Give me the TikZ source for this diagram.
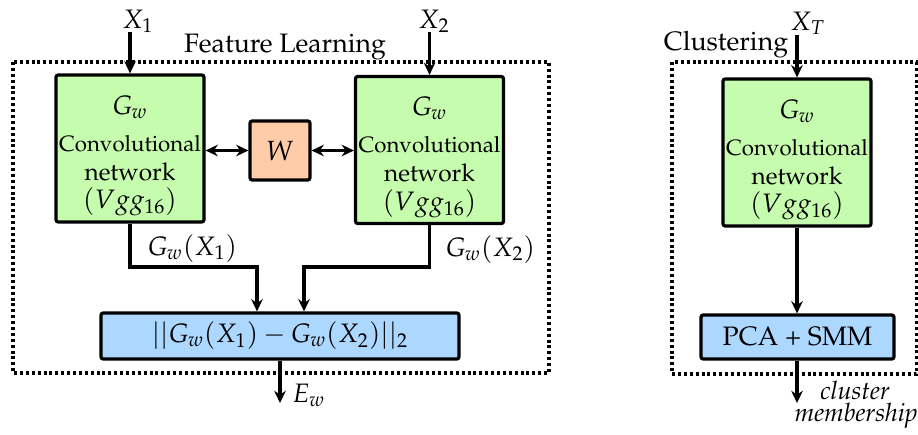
\documentclass[tikz,border=0pt]{standalone}
\usepackage[T1]{fontenc}
\usepackage{mathpazo}
\usetikzlibrary{arrows.meta,calc}
\definecolor{convgreen}{RGB}{198,252,174}
\definecolor{worange}{RGB}{255,204,170}
\definecolor{lossblue}{RGB}{172,216,255}
\begin{document}
\begin{tikzpicture}[x=0.45pt,y=-0.45pt,
  box/.style={draw,line width=1.45pt,rounded corners=1pt,inner sep=0pt},
  conv/.style={box,fill=convgreen,minimum width=66.6pt,minimum height=66.15pt},
  wbox/.style={box,fill=worange,minimum width=27pt,minimum height=26.55pt,font=\fontsize{12.5}{14}\selectfont},
  lossbox/.style={box,fill=lossblue,font=\fontsize{12}{14}\selectfont},
  convtext/.style={align=center,inner sep=0pt,font=\fontsize{12}{13}\selectfont},
  arr/.style={line width=1.4pt,-{Stealth[length=5.5pt,width=5.2pt]}},
  darr/.style={line width=1.4pt,{Stealth[length=5.5pt,width=5.2pt]}-{Stealth[length=5.5pt,width=5.2pt]}},
  frame/.style={line width=1.45pt,dash pattern=on 1.35pt off 1.3pt},
  lbl/.style={inner sep=0pt,font=\fontsize{12}{14}\selectfont},
  outlbl/.style={inner sep=0pt,font=\fontsize{11.4}{13}\selectfont\itshape}]
\useasboundingbox (0,0) rectangle (918,434);

% frames
\draw[frame] (13,62) rectangle (549,373);
\draw[frame] (672,62) rectangle (916.5,374);

% frame titles
\node[lbl,anchor=base] (tfl) at (285,52) {Feature Learning};
\node[lbl,anchor=base] (tcl) at (726,50) {Clustering};

% boxes
\node[conv] (g1) at (130,148.5) {};
\node[conv] (g2) at (429.5,150) {};
\node[conv] (gT) at (797,152.5) {};
\node[convtext] (g1t) at (130,156) {$G_w$\\[3.5pt] {\fontsize{10}{13}\selectfont Convolutional}\\ {\fontsize{11}{13}\selectfont network}\\ $(Vgg_{16})$};
\node[convtext] (g2t) at (429.5,157.5) {$G_w$\\[3.5pt] {\fontsize{10}{13}\selectfont Convolutional}\\ {\fontsize{11}{13}\selectfont network}\\ $(Vgg_{16})$};
\node[convtext] (gTt) at (797,160) {$G_w$\\[3.5pt] {\fontsize{10}{13}\selectfont Convolutional}\\ {\fontsize{11}{13}\selectfont network}\\ $(Vgg_{16})$};

\node[wbox] (w) at (280,150.5) {$W$};
\node[lossbox,minimum width=161.1pt,minimum height=20.7pt] (b1) at (280,336) {$||G_w(X_1)-G_w(X_2)||_2$};
\node[lossbox,minimum width=86.85pt,minimum height=19.8pt] (b2) at (797.5,337) {PCA + SMM};

% inputs
\coordinate (in1) at (130,32);
\coordinate (in2) at (429.5,32);
\coordinate (inT) at (797,35);
\node[lbl,anchor=base west] (x1) at (122,28) {$X_1$};
\node[lbl,anchor=base west] (x2) at (418,28) {$X_2$};
\node[lbl,anchor=base west] (xT) at (790,30) {$X_T$};
\draw[arr] (in1) -- (g1.north);
\draw[arr] (in2) -- (g2.north);
\draw[arr] (inT) -- (gT.north);

% W links
\draw[darr] (g1.east |- w.west) -- (w.west);
\draw[darr] (w.east) -- (g2.west |- w.east);

% outputs to loss
\coordinate (j1) at (257,267);
\coordinate (j2) at (304,267);
\draw[arr] (g1.south) |- (j1) -- (j1 |- b1.north);
\draw[arr] (g2.south) |- (j2) -- (j2 |- b1.north);
\node[lbl,anchor=base west] (o1) at (147,255) {$G_w(X_1)$};
\node[lbl,anchor=base west] (o2) at (445,256) {$G_w(X_2)$};

% loss output
\coordinate (ew) at (280,403);
\draw[arr] (b1.south) -- (ew);
\node[lbl,anchor=base west] (ewl) at (292,402) {$E_w$};

% clustering
\draw[arr] (gT.south) -- (gT.south |- b2.north);
\coordinate (cm) at (797,403);
\draw[arr] (gT.south |- b2.south) -- (cm);
\node[outlbl,anchor=base] (cml1) at (855,399) {cluster};
\node[outlbl,anchor=base] (cml2) at (856,421) {membership};
\end{tikzpicture}
\end{document}
